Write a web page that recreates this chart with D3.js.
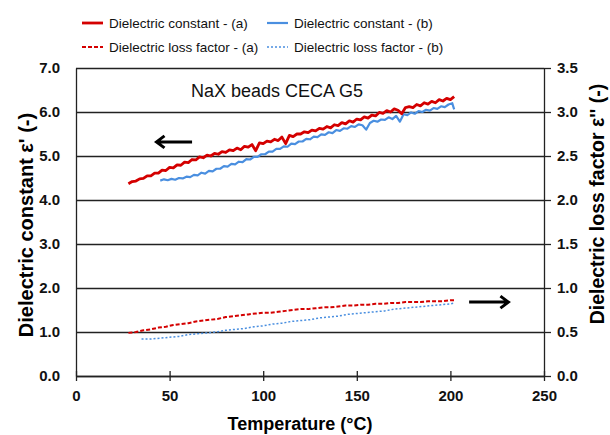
<!DOCTYPE html>
<html>
<head>
<meta charset="utf-8">
<script src="https://cdn.jsdelivr.net/npm/d3@7"></script>
<style>
  body { margin: 0; background: #fff; }
  svg { font-family: "Liberation Sans", Arial, sans-serif; }
  .axis text { font-weight: bold; font-size: 15px; fill: #111; }
  .axis path, .axis line { stroke: #222; stroke-width: 1.3; }
</style>
</head>
<body>
<div id="chart"></div>
<script>
// dielectric constant, sample (a)  (temperature, eps')
var tempConstA = [28,30,32,34,36,38,40,42,44,46,48,50,52,54,56,58,60,62,64,66,68,70,72,74,76,78,80,82,84,86,88,90,92,94,96,98,100,102,104,106,108,110,112,114,116,118,120,122,124,126,128,130,132,134,136,138,140,142,144,146,148,150,152,154,156,158,160,162,164,166,168,170,172,174,176,178,180,182,184,186,188,190,192,194,196,198,200,202];
var constA = [4.37,4.42,4.43,4.48,4.49,4.55,4.55,4.61,4.61,4.68,4.67,4.74,4.73,4.80,4.79,4.86,4.85,4.92,4.91,4.98,4.96,5.02,5.00,5.06,5.04,5.10,5.08,5.14,5.12,5.18,5.14,5.22,5.20,5.26,5.12,5.30,5.28,5.34,5.32,5.38,5.35,5.43,5.28,5.47,5.44,5.50,5.50,5.55,5.53,5.59,5.57,5.63,5.61,5.67,5.64,5.71,5.69,5.76,5.73,5.80,5.77,5.84,5.82,5.89,5.86,5.93,5.91,5.99,5.97,6.03,6.00,6.07,6.04,5.96,6.10,6.12,6.10,6.17,6.14,6.21,6.18,6.24,6.21,6.28,6.25,6.31,6.28,6.35];

// dielectric constant, sample (b)
var tempConstB = [45,47,49,51,53,55,57,59,61,63,65,67,69,71,73,75,77,79,81,83,85,87,89,91,93,95,97,99,101,103,105,107,109,111,113,115,117,119,121,123,125,127,129,131,133,135,137,139,141,143,145,147,149,151,153,155,157,159,161,163,165,167,169,171,173,175,177,179,181,183,185,187,189,191,193,195,197,199,201,202];
var constB = [4.44,4.47,4.45,4.48,4.46,4.50,4.49,4.53,4.52,4.57,4.56,4.62,4.60,4.66,4.65,4.71,4.71,4.77,4.76,4.82,4.81,4.87,4.86,4.93,4.92,4.98,4.98,5.04,5.04,5.10,5.10,5.16,5.16,5.22,5.21,5.28,5.27,5.33,5.33,5.39,5.38,5.44,5.43,5.49,5.48,5.54,5.52,5.59,5.57,5.63,5.62,5.68,5.66,5.72,5.70,5.60,5.75,5.80,5.78,5.83,5.82,5.88,5.84,5.91,5.78,5.95,5.93,5.99,5.96,6.02,6.00,6.05,6.03,6.09,6.07,6.13,6.11,6.17,6.20,6.06];

// dielectric loss factor, sample (a)  (temperature, eps'')
var tempLossA = [28,32,36,40,44,48,52,56,60,64,68,72,76,80,84,88,92,96,100,104,108,112,116,120,124,128,132,136,140,144,148,152,156,160,164,168,172,176,180,184,188,192,196,200,202];
var lossA = [0.49,0.50,0.52,0.53,0.55,0.56,0.58,0.59,0.60,0.62,0.63,0.64,0.65,0.67,0.68,0.69,0.70,0.71,0.72,0.72,0.73,0.74,0.75,0.76,0.76,0.77,0.78,0.78,0.79,0.80,0.80,0.81,0.81,0.82,0.82,0.83,0.83,0.84,0.84,0.84,0.85,0.85,0.85,0.86,0.86];

// dielectric loss factor, sample (b)
var tempLossB = [35,40,45,50,55,60,65,70,75,80,85,90,95,100,105,110,115,120,125,130,135,140,145,150,155,160,165,170,175,180,185,190,195,200,202];
var lossB = [0.42,0.42,0.43,0.44,0.45,0.47,0.48,0.49,0.50,0.52,0.53,0.54,0.56,0.57,0.59,0.60,0.62,0.63,0.64,0.66,0.67,0.68,0.70,0.71,0.72,0.73,0.74,0.76,0.77,0.78,0.79,0.80,0.81,0.82,0.83];

var xTicks = [0, 50, 100, 150, 200, 250];
var yLeftTicks = [0, 1, 2, 3, 4, 5, 6, 7];
var yRightTicks = [0, 0.5, 1, 1.5, 2, 2.5, 3, 3.5];

var legendItems = [
  { label: "Dielectric constant - (a)", color: "#d40000", dash: null, width: 2.8 },
  { label: "Dielectric constant - (b)", color: "#4a8fe0", dash: null, width: 2.2 },
  { label: "Dielectric loss factor - (a)", color: "#d40000", dash: "4,2", width: 2 },
  { label: "Dielectric loss factor - (b)", color: "#4a8fe0", dash: "2,2", width: 1.5 }
];

var width = 610, height = 435;
var plot = { left: 76, right: 544, top: 68, bottom: 376 };

var svg = d3.select("#chart").append("svg")
  .attr("width", width)
  .attr("height", height);

svg.append("rect").attr("width", width).attr("height", height).attr("fill", "#fff");

var x = d3.scaleLinear().domain([0, 250]).range([plot.left, plot.right]);
var yL = d3.scaleLinear().domain([0, 7]).range([plot.bottom, plot.top]);
var yR = d3.scaleLinear().domain([0, 3.5]).range([plot.bottom, plot.top]);

// left axis with grid lines
svg.append("g")
  .attr("class", "axis")
  .attr("transform", "translate(" + plot.left + ",0)")
  .call(d3.axisLeft(yL).tickValues(yLeftTicks).tickFormat(d3.format(".1f"))
    .tickSizeInner(-(plot.right - plot.left)).tickSizeOuter(0).tickPadding(16));

// right axis
svg.append("g")
  .attr("class", "axis")
  .attr("transform", "translate(" + plot.right + ",0)")
  .call(d3.axisRight(yR).tickValues(yRightTicks).tickFormat(d3.format(".1f"))
    .tickSizeInner(7).tickSizeOuter(0).tickPadding(6));

// bottom axis, ticks cross the line
var xAxis = svg.append("g")
  .attr("class", "axis")
  .attr("transform", "translate(0," + plot.bottom + ")")
  .call(d3.axisBottom(x).tickValues(xTicks).tickSizeInner(5).tickSizeOuter(0).tickPadding(9));
xAxis.selectAll(".tick line").attr("y1", -5).attr("y2", 5);

function drawSeries(ts, vs, yScale, item) {
  var pts = ts.map(function (t, i) { return [t, vs[i]]; });
  var line = d3.line()
    .x(function (d) { return x(d[0]); })
    .y(function (d) { return yScale(d[1]); });
  svg.append("path")
    .datum(pts)
    .attr("d", line)
    .attr("fill", "none")
    .attr("stroke", item.color)
    .attr("stroke-width", item.width)
    .attr("stroke-dasharray", item.dash)
    .attr("stroke-linejoin", "round");
}

drawSeries(tempConstB, constB, yL, legendItems[1]);
drawSeries(tempConstA, constA, yL, legendItems[0]);
drawSeries(tempLossB, lossB, yR, legendItems[3]);
drawSeries(tempLossA, lossA, yR, legendItems[2]);

// arrows pointing to the axis each pair belongs to
function arrow(x1, x2, yy) {
  var dir = x2 > x1 ? -1 : 1;
  svg.append("path")
    .attr("d", "M" + x1 + "," + yy + "L" + x2 + "," + yy +
      "M" + (x2 + dir * 8) + "," + (yy - 6) + "L" + x2 + "," + yy + "L" + (x2 + dir * 8) + "," + (yy + 6))
    .attr("fill", "none")
    .attr("stroke", "#000")
    .attr("stroke-width", 3);
}
arrow(x(62), x(43), yL(5.32));
arrow(x(210), x(231), yR(0.84));

svg.append("text")
  .attr("x", 191).attr("y", 97)
  .attr("font-size", 18)
  .attr("fill", "#111")
  .text("NaX beads CECA G5");

// axis titles
svg.append("text")
  .attr("x", 300).attr("y", 430)
  .attr("text-anchor", "middle")
  .attr("font-size", 18).attr("font-weight", "bold")
  .text("Temperature (°C)");

svg.append("text")
  .attr("transform", "translate(33,225) rotate(-90)")
  .attr("text-anchor", "middle")
  .attr("font-size", 20).attr("font-weight", "bold")
  .text("Dielectric constant ε' (-)");

svg.append("text")
  .attr("transform", "translate(604,204) rotate(-90)")
  .attr("text-anchor", "middle")
  .attr("font-size", 19.5).attr("font-weight", "bold")
  .text("Dielectric loss factor ε'' (-)");

// legend, two columns
var legend = svg.append("g").selectAll("g")
  .data(legendItems)
  .enter()
  .append("g")
  .attr("transform", function (d, i) {
    return "translate(" + (i % 2 == 0 ? 82 : 267) + "," + (i < 2 ? 23 : 47) + ")";
  });
legend.append("line")
  .attr("x1", 0).attr("x2", 21)
  .attr("stroke", d => d.color)
  .attr("stroke-width", d => d.width)
  .attr("stroke-dasharray", d => d.dash);
legend.append("text")
  .attr("x", 27).attr("dy", "0.35em")
  .attr("font-size", 13.5)
  .attr("fill", "#111")
  .text(d => d.label);
</script>
</body>
</html>
